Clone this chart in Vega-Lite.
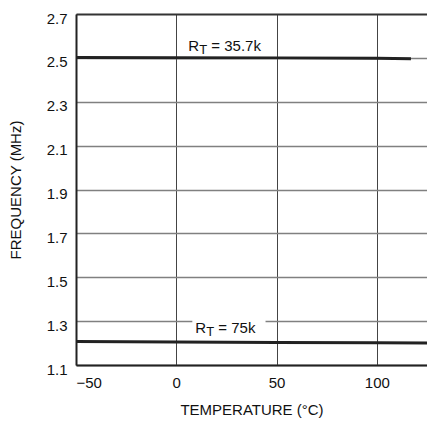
{
  "$schema": "https://vega.github.io/schema/vega-lite/v6.json",
  "width": 351,
  "height": 351,
  "autosize": {"type": "none"},
  "padding": {"left": 76, "top": 14, "right": 0, "bottom": 56},
  "background": "white",
  "config": {
    "view": {"stroke": null},
    "font": "Liberation Sans",
    "axis": {"labelFont": "Liberation Sans", "titleFont": "Liberation Sans", "labelColor": "#111", "titleColor": "#111", "titleFontWeight": "normal"}
  },
  "layer": [
    {
      "data": {"values": [
        {"series": "35.7k", "t": -50, "f": 2.502},
        {"series": "35.7k", "t": 0, "f": 2.501},
        {"series": "35.7k", "t": 50, "f": 2.5},
        {"series": "35.7k", "t": 100, "f": 2.498},
        {"series": "35.7k", "t": 117, "f": 2.496},
        {"series": "75k", "t": -50, "f": 1.207},
        {"series": "75k", "t": 0, "f": 1.205},
        {"series": "75k", "t": 50, "f": 1.203},
        {"series": "75k", "t": 100, "f": 1.201},
        {"series": "75k", "t": 125, "f": 1.2}
      ]},
      "mark": {"type": "line", "color": "#222", "strokeWidth": 3, "clip": true},
      "encoding": {
        "detail": {"field": "series"},
        "x": {
          "field": "t", "type": "quantitative",
          "scale": {"domain": [-50, 125], "nice": false, "zero": false},
          "axis": {
            "values": [-50, 0, 50, 100],
            "title": "TEMPERATURE (°C)",
            "titleFontSize": 15,
            "titlePadding": 12,
            "labelFontSize": 15,
            "labelPadding": 10,
            "ticks": false,
            "grid": true,
            "gridColor": "#444",
            "gridWidth": 1,
            "domainColor": "#222",
            "domainWidth": 2
          }
        },
        "y": {
          "field": "f", "type": "quantitative",
          "scale": {"domain": [1.1, 2.7], "nice": false, "zero": false},
          "axis": {
            "values": [1.1, 1.3, 1.5, 1.7, 1.9, 2.1, 2.3, 2.5, 2.7],
            "format": ".1f",
            "title": "FREQUENCY (MHz)",
            "titleFontSize": 15,
            "titlePadding": 23,
            "labelFontSize": 15,
            "labelPadding": 9,
            "labelOffset": 4,
            "ticks": false,
            "grid": true,
            "gridColor": {"condition": {"test": "datum.value == 2.7", "value": "#333"}, "value": "#808080"},
            "gridWidth": {"condition": {"test": "datum.value == 2.7", "value": 2}, "value": 1.4},
            "domainColor": "#222",
            "domainWidth": 2
          }
        }
      }
    },
    {
      "data": {"values": [{"x1": 8, "x2": 44.5, "y1": 1.28, "y2": 1.32}]},
      "mark": {"type": "rect", "color": "white"},
      "encoding": {
        "x": {"field": "x1", "type": "quantitative"},
        "x2": {"field": "x2"},
        "y": {"field": "y1", "type": "quantitative"},
        "y2": {"field": "y2"}
      }
    },
    {
      "data": {"values": [
        {"x": 6, "y": 2.533, "r": "R", "sub": "T", "rest": "= 35.7k"},
        {"x": 9.5, "y": 1.247, "r": "R", "sub": "T", "rest": "= 75k"}
      ]},
      "layer": [
        {
          "mark": {"type": "text", "align": "left", "baseline": "alphabetic", "fontSize": 15, "color": "#111"},
          "encoding": {"x": {"field": "x", "type": "quantitative"}, "y": {"field": "y", "type": "quantitative"}, "text": {"field": "r"}}
        },
        {
          "mark": {"type": "text", "align": "left", "baseline": "alphabetic", "fontSize": 13, "dx": 11, "dy": 3.5, "color": "#111"},
          "encoding": {"x": {"field": "x", "type": "quantitative"}, "y": {"field": "y", "type": "quantitative"}, "text": {"field": "sub"}}
        },
        {
          "mark": {"type": "text", "align": "left", "baseline": "alphabetic", "fontSize": 15, "dx": 23, "color": "#111"},
          "encoding": {"x": {"field": "x", "type": "quantitative"}, "y": {"field": "y", "type": "quantitative"}, "text": {"field": "rest"}}
        }
      ]
    }
  ]
}
